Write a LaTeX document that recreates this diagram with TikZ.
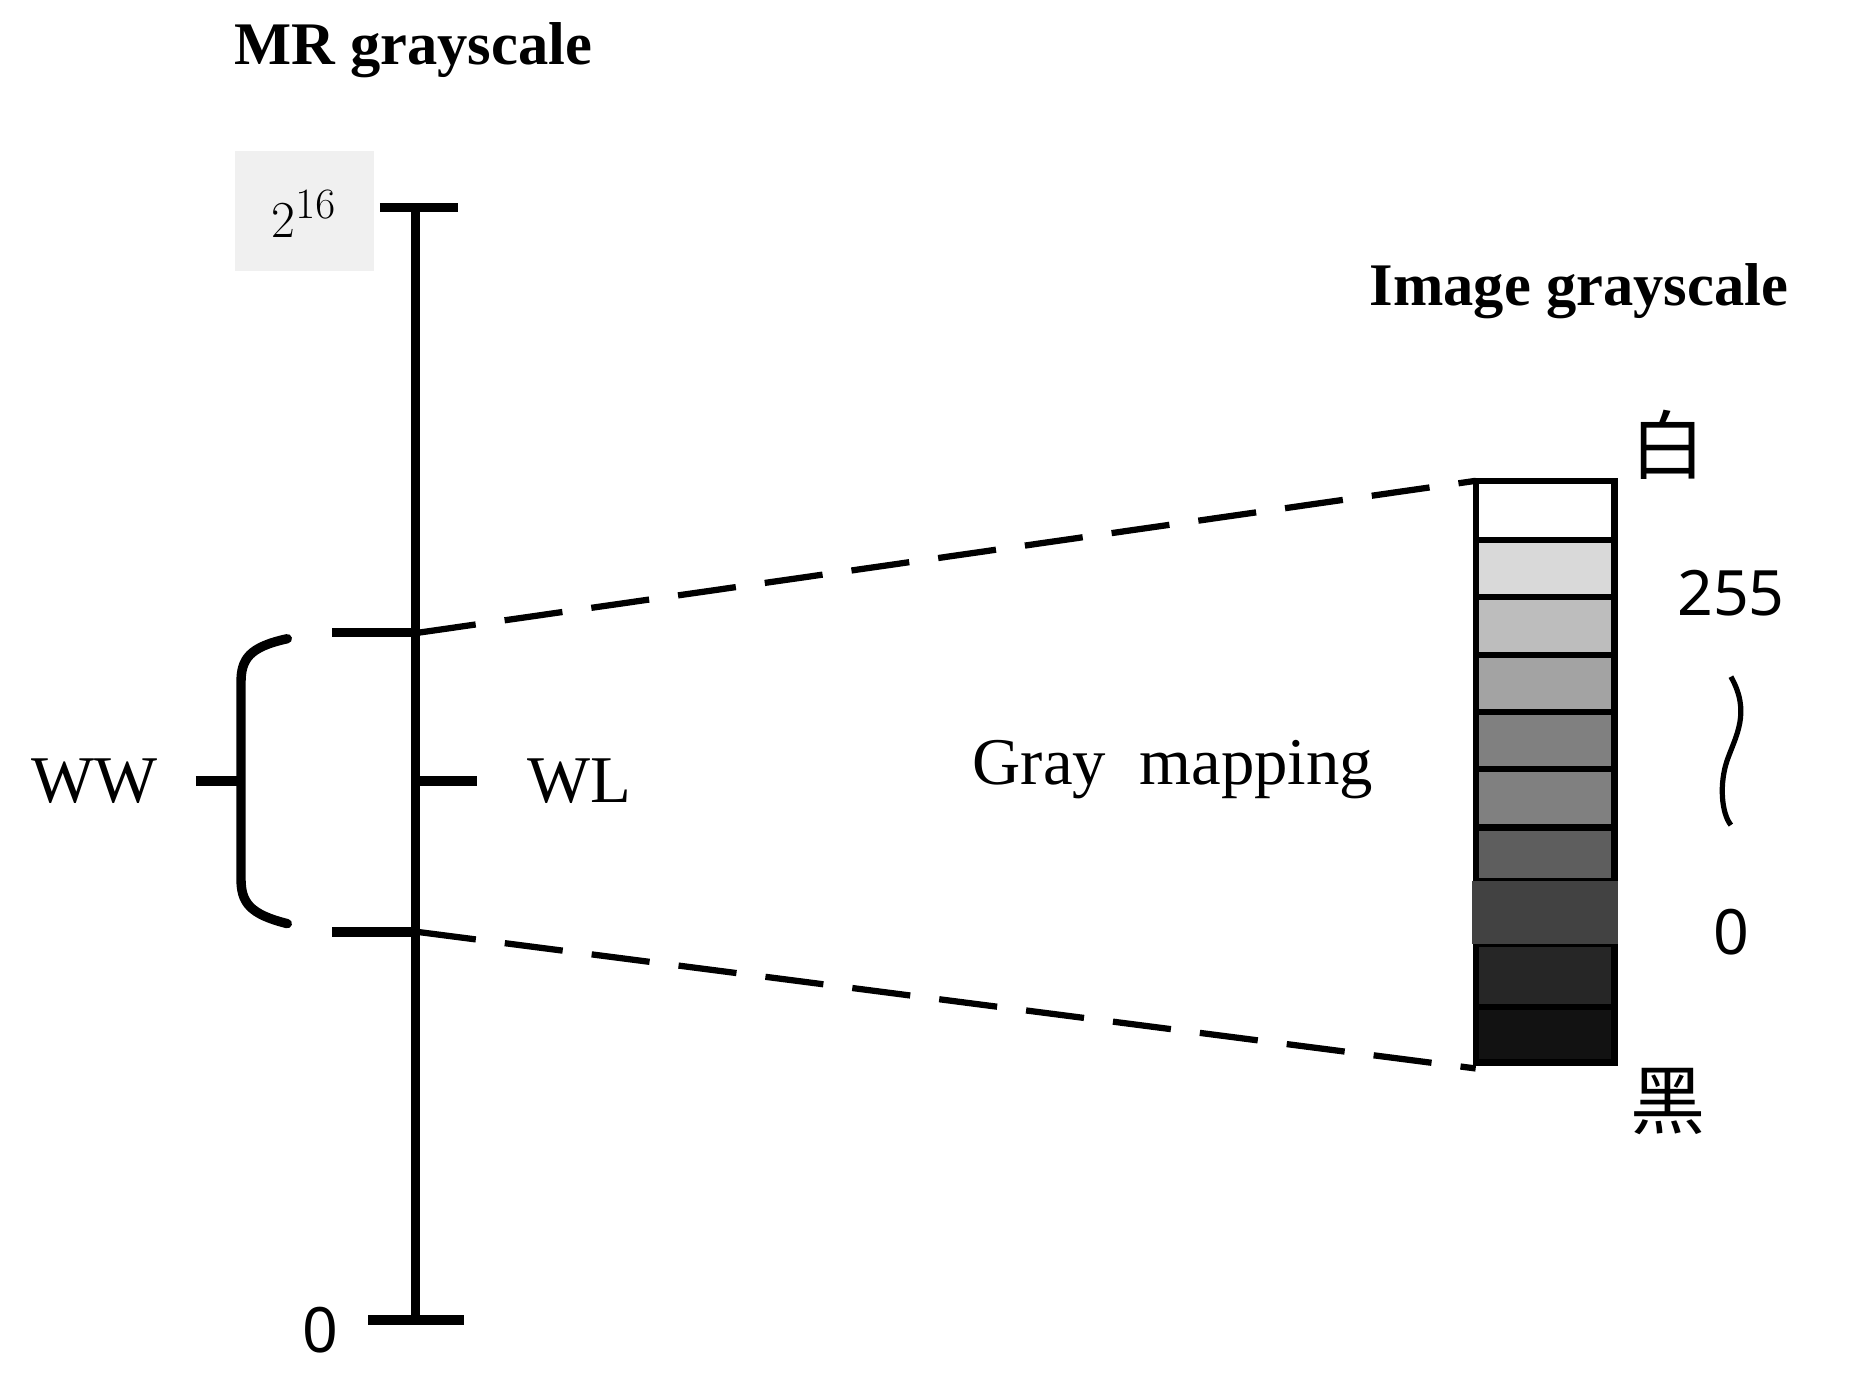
\documentclass[tikz,border=0pt]{standalone}
\usepackage{fontspec}
\setmainfont{Liberation Serif}
\newfontfamily\cjk{Noto Sans CJK SC}
\newfontfamily\numf{Noto Sans}
\usetikzlibrary{decorations.pathmorphing}
\begin{document}
\begin{tikzpicture}[x=0.02cm,y=-0.02cm,
  ax/.style={line width=4.5pt},
  dl/.style={line width=3pt,dash pattern=on 28pt off 14pt},
  cell/.style={draw,line width=3pt},
  ttl/.style={font=\fontsize{29}{30}\selectfont\bfseries},
  lbl/.style={font=\fontsize{32}{34}\selectfont},
  num/.style={font=\numf\fontsize{30}{32}\selectfont}]
\useasboundingbox (0,0) rectangle (1560,1157);
\node[ttl] (t1) at (348,42) {MR grayscale};
\node[ttl] (t2) at (1330,245) {Image grayscale};
\fill[gray!12] (198,127) rectangle (315,228);
\node[font=\fontsize{32}{34}\selectfont] (top) at (256,180) {$2^{16}$};
\node[num] (zero) at (270,1120) {0};
\coordinate (a1) at (350,175); \coordinate (a2) at (350,1112);
\draw[ax] (a1) -- (a2);
\draw[ax] (320,175) -- (386,175);
\draw[ax] (310,1112) -- (391,1112);
\coordinate (u) at (352,533); \coordinate (l) at (352,785);
\draw[ax] (280,533) -- (u);
\draw[ax] (280,785) -- (l);
\draw[ax] (350,658) -- (402,658);
\node[lbl] (wl) at (488,658) {WL};
\draw[ax] (165,658) -- (203,658);
\node[lbl] (ww) at (80,658) {WW};
\draw[ax,line cap=round] (242,538) .. controls (210,545) and (203,555) .. (203,575) -- (203,740) .. controls (203,760) and (210,770) .. (242,778);
\coordinate (bu) at (1243,405); \coordinate (bl) at (1243,900);
\draw[dl] (u) -- (bu);
\draw[dl] (l) -- (bl);
\foreach \ya/\yb/\c in {405/455/100,455/503/85,503/552/74,552/600/64,600/648/50,648/697/50,697/742/37}
  \draw[cell,fill=black!\the\numexpr100-\c\relax] (1243,\ya) rectangle (1360,\yb);
\foreach \ya/\yb/\c in {795/848/85,848/895/93}
  \draw[cell,fill=black!\c] (1243,\ya) rectangle (1360,\yb);
\fill[black!74] (1240,742) rectangle (1363,795);
\node[font=\cjk\fontsize{36}{38}\selectfont] (w) at (1405,375) {白};
\node[font=\cjk\fontsize{36}{38}\selectfont] (b) at (1405,928) {黑};
\node[num] (n255) at (1458,500) {255};
\node[num] (n0) at (1458,785) {0};
\draw[line width=2.5pt] (1458,570) .. controls (1475,600) and (1462,620) .. (1455,640) .. controls (1448,660) and (1450,685) .. (1458,695);
\node[lbl] (gm) at (988,648) {Gray\ \ mapping};
\end{tikzpicture}
\end{document}
